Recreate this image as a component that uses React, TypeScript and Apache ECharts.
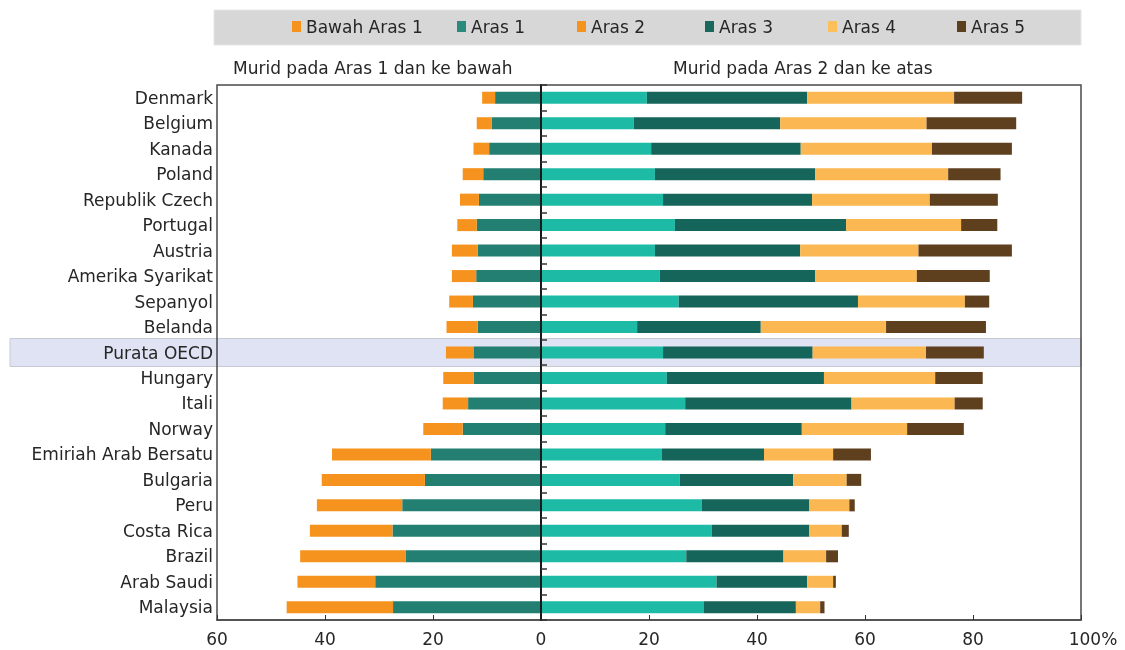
import React, { useEffect, useRef } from "react";
import * as echarts from "echarts";

const countries = [
  "Denmark", "Belgium", "Kanada", "Poland", "Republik Czech", "Portugal", "Austria",
  "Amerika Syarikat", "Sepanyol", "Belanda", "Purata OECD", "Hungary", "Itali", "Norway",
  "Emiriah Arab Bersatu", "Bulgaria", "Peru", "Costa Rica", "Brazil", "Arab Saudi", "Malaysia",
];

// left side (shown as negative)
const bawahAras1 = [2.4, 2.8, 2.9, 3.8, 3.5, 3.6, 4.8, 4.5, 4.4, 5.8, 5.1, 5.6, 4.7, 7.3, 18.3, 19.1, 15.8, 15.3, 19.5, 14.4, 19.7];
const aras1 = [8.5, 9.1, 9.6, 10.7, 11.5, 11.9, 11.7, 12.0, 12.6, 11.7, 12.5, 12.5, 13.5, 14.5, 20.4, 21.5, 25.7, 27.5, 25.1, 30.7, 27.4];
// right side
const aras2 = [19.6, 17.2, 20.4, 21.1, 22.6, 24.8, 21.1, 22.0, 25.5, 17.8, 22.6, 23.3, 26.7, 23.0, 22.4, 25.7, 29.8, 31.6, 26.9, 32.5, 30.1];
const aras3 = [29.7, 27.1, 27.7, 29.7, 27.6, 31.7, 26.9, 28.8, 33.2, 22.9, 27.7, 29.1, 30.8, 25.3, 18.9, 21.0, 19.9, 18.1, 18.0, 16.8, 17.1];
const aras4 = [27.2, 27.1, 24.3, 24.6, 21.8, 21.3, 21.9, 18.8, 19.8, 23.2, 21.0, 20.6, 19.1, 19.5, 12.8, 9.9, 7.4, 6.0, 7.9, 4.8, 4.5];
const aras5 = [12.6, 16.6, 14.8, 9.7, 12.6, 6.7, 17.3, 13.5, 4.5, 18.5, 10.7, 8.8, 5.2, 10.5, 7.0, 2.7, 1.0, 1.3, 2.2, 0.5, 0.8];

const xTicks = { min: -60, max: 100, interval: 20 };

const legendNames = ["Bawah Aras 1", "Aras 1", "Aras 2", "Aras 3", "Aras 4", "Aras 5"];
const legendColors = ["#f6931e", "#2a8a7b", "#f6931e", "#18695c", "#fdbf5a", "#5b3f1f"];
const legendLefts = [292, 457, 577, 705, 828, 957];

const FONT = "'DejaVu Sans', 'Liberation Sans', Arial, sans-serif";
const FS = 17;
const TXT = "#262626";

export default function App() {
  const ref = useRef<HTMLDivElement>(null);
  useEffect(() => {
    if (!ref.current) return;
    const chart = echarts.init(ref.current, undefined, { renderer: "svg" });
    const barW = 12;
    const mk = (name: string, data: number[], color: string, neg = false) => ({
      name,
      type: "bar",
      stack: "total",
      barWidth: barW,
      data: data.map((v) => (neg ? -v : v)),
      itemStyle: { color },
      emphasis: { disabled: true },
    });
    const baseGraphic: any[] = [
      {
        id: "legbg",
        type: "rect",
        z: -5,
        shape: { x: 214, y: 10, width: 867, height: 35 },
        style: { fill: "#d7d7d7", stroke: "#e6e6e6", lineWidth: 1 },
      },
      {
        id: "subL",
        type: "text",
        x: 233,
        y: 68,
        style: { text: "Murid pada Aras 1 dan ke bawah", fontSize: FS, fill: TXT, fontFamily: FONT, verticalAlign: "middle" },
      },
      {
        id: "subR",
        type: "text",
        x: 673,
        y: 68,
        style: { text: "Murid pada Aras 2 dan ke atas", fontSize: FS, fill: TXT, fontFamily: FONT, verticalAlign: "middle" },
      },
    ];
    chart.setOption({
      animation: false,
      textStyle: { fontFamily: FONT },
      legend: legendNames.map((n, i) => ({
        data: [{ name: n, itemStyle: { color: legendColors[i] } }],
        left: legendLefts[i],
        top: 18,
        padding: 0,
        icon: "rect",
        itemWidth: 9,
        itemHeight: 11,
        selectedMode: false,
        textStyle: { fontSize: FS, color: TXT, fontFamily: FONT },
      })),
      grid: {
        left: 217,
        right: 44,
        top: 85,
        bottom: 30,
        show: true,
        borderColor: "#4a4a4a",
        borderWidth: 1.5,
        backgroundColor: "transparent",
      },
      xAxis: {
        type: "value",
        min: xTicks.min,
        max: xTicks.max,
        interval: xTicks.interval,
        splitLine: { show: false },
        axisLine: { show: true, lineStyle: { color: "#4a4a4a", width: 1.5 } },
        axisTick: { show: true, inside: true, length: 5, lineStyle: { color: "#333" } },
        axisLabel: {
          fontSize: FS,
          color: TXT,
          margin: 10,
          fontFamily: FONT,
          formatter: (v: number) => (v === 100 ? "{p|100%}" : String(Math.abs(v))),
          rich: { p: { padding: [0, 0, 0, 24], fontSize: FS, color: TXT, fontFamily: FONT } },
        },
      },
      yAxis: [
        {
          type: "category",
          data: countries,
          inverse: true,
          axisLine: { show: false, onZero: false },
          axisTick: { show: false },
          axisLabel: { fontSize: FS, color: TXT, margin: 4, fontFamily: FONT },
        },
        {
          type: "category",
          data: countries,
          inverse: true,
          position: "left",
          z: 5,
          axisLine: { show: true, onZero: true, lineStyle: { color: "#1a1a1a", width: 2 } },
          axisTick: { show: true, inside: true, length: 6, lineStyle: { color: "#333", width: 1.5 } },
          axisLabel: { show: false },
        },
      ],
      series: [
        mk("Aras 1", aras1, "#237f72", true),
        mk("Bawah Aras 1", bawahAras1, "#f6931e", true),
        mk("Aras 2", aras2, "#1dbba6"),
        mk("Aras 3", aras3, "#16655a"),
        mk("Aras 4", aras4, "#fbb751"),
        mk("Aras 5", aras5, "#5e3f1e"),
      ],
      graphic: baseGraphic,
    });
    const cy = chart.convertToPixel({ yAxisIndex: 0 }, "Purata OECD") as number;
    const xr = chart.convertToPixel({ xAxisIndex: 0 }, xTicks.max) as number;
    chart.setOption({
      graphic: [
        ...baseGraphic,
        {
          id: "band",
          type: "rect",
          z: -10,
          shape: { x: 10, y: cy - 14, width: xr - 10, height: 28 },
          style: { fill: "#dfe3f3", stroke: "#c8cad3", lineWidth: 1 },
        },
      ],
    });
    return () => chart.dispose();
  }, []);
  return <div ref={ref} style={{ position: "fixed", left: 0, top: 0, width: 1125, height: 650 }} />;
}
